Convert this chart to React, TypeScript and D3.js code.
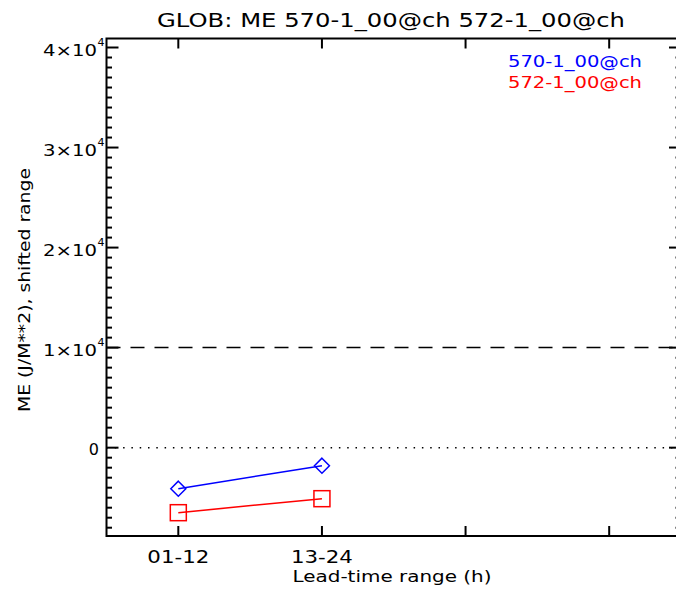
import React from "react";
import * as d3 from "d3";

const xTickLabels = ["01-12", "13-24", "", ""];
const xTickPositions = [1, 2, 3, 4];
const series1Name = "570-1_00@ch";
const series2Name = "572-1_00@ch";
const series1Values = [-4100, -1800];
const series2Values = [-6500, -5100];
const yMajorTicks = [0, 10000, 20000, 30000, 40000];
const yTickLabels = ["0", "1×10", "2×10", "3×10", "4×10"];
const title = "GLOB: ME 570-1_00@ch 572-1_00@ch";
const xTitle = "Lead-time range (h)";
const yTitle = "ME (J/M**2), shifted range";

const W = 676;
const H = 591;
const L = 106.5;
const R = 681;
const T = 38.5;
const B = 536;
const FONT = "DejaVu Sans, sans-serif";

export default function App() {
  const x = d3.scaleLinear().domain([0.5, 4.5]).range([L, R]);
  const y = d3.scaleLinear().domain([-8830, 40900]).range([B, T]);
  const minor = d3.range(-8000, 40901, 1000).filter((v) => v % 10000 !== 0);
  const line = d3
    .line<number>()
    .x((_, i) => x(i + 1))
    .y((d) => y(d));

  return (
    <svg
      width={W}
      height={H}
      style={{ position: "absolute", left: 0, top: 0, background: "#fff" }}
      fontFamily={FONT}
    >
      <rect x={0} y={0} width={W} height={H} fill="#fff" />
      <text x={391} y={27} fontSize={19} textAnchor="middle" textLength={468} lengthAdjust="spacingAndGlyphs">
        {title}
      </text>

      {/* reference lines */}
      <line x1={L} x2={R} y1={y(10000)} y2={y(10000)} stroke="#000" strokeWidth={1.5} strokeDasharray="14 10" />
      <line x1={L} x2={R} y1={y(0)} y2={y(0)} stroke="#000" strokeWidth={1.5} strokeDasharray="1.5 6.8" />

      {/* frame */}
      <rect x={L} y={T} width={R - L} height={B - T} fill="none" stroke="#000" strokeWidth={2} />

      {/* y ticks */}
      {yMajorTicks.map((v) => (
        <g key={"ym" + v}>
          <line x1={L} x2={L + 12} y1={y(v)} y2={y(v)} stroke="#000" strokeWidth={2} />
          <line x1={R} x2={R - 12} y1={y(v)} y2={y(v)} stroke="#000" strokeWidth={2} />
        </g>
      ))}
      {minor.map((v) => (
        <g key={"yn" + v}>
          <line x1={L} x2={L + 5.5} y1={y(v)} y2={y(v)} stroke="#000" strokeWidth={2} />
          <line x1={R} x2={R - 5.5} y1={y(v)} y2={y(v)} stroke="#000" strokeWidth={2} />
        </g>
      ))}
      {yMajorTicks.map((v, i) =>
        v === 0 ? (
          <text key={"yl" + v} x={99} y={y(v) + 7.5} fontSize={16} textAnchor="end">
            {yTickLabels[i]}
          </text>
        ) : (
          <g key={"yl" + v}>
            <text x={97} y={y(v) + 8.5} fontSize={16} textAnchor="end" textLength={54} lengthAdjust="spacingAndGlyphs">
              {yTickLabels[i]}
            </text>
            <text x={97.5} y={y(v) - 2} fontSize={11}>
              4
            </text>
          </g>
        )
      )}

      {/* x ticks */}
      {xTickPositions.map((p, i) => (
        <g key={"xt" + p}>
          <line x1={x(p)} x2={x(p)} y1={B} y2={B - 10} stroke="#000" strokeWidth={2} />
          <line x1={x(p)} x2={x(p)} y1={T} y2={T + 10} stroke="#000" strokeWidth={2} />
          {xTickLabels[i] && (
            <text x={x(p)} y={563} fontSize={17} textAnchor="middle" textLength={62} lengthAdjust="spacingAndGlyphs">
              {xTickLabels[i]}
            </text>
          )}
        </g>
      ))}

      <text x={392} y={582} fontSize={16} textAnchor="middle" textLength={199} lengthAdjust="spacingAndGlyphs">
        {xTitle}
      </text>
      <text
        transform={`translate(30,290) rotate(-90)`}
        fontSize={15}
        textAnchor="middle"
        textLength={244}
        lengthAdjust="spacingAndGlyphs"
      >
        {yTitle}
      </text>

      {/* series 1: blue diamonds */}
      <path d={line(series1Values) || ""} fill="none" stroke="#0000ff" strokeWidth={1.5} />
      {series1Values.map((v, i) => {
        const cx = x(i + 1);
        const cy = y(v);
        const s = 7.5;
        return (
          <path
            key={"d" + i}
            d={`M${cx},${cy - s}L${cx + s},${cy}L${cx},${cy + s}L${cx - s},${cy}Z`}
            fill="none"
            stroke="#0000ff"
            strokeWidth={1.5}
          />
        );
      })}

      {/* series 2: red squares */}
      <path d={line(series2Values) || ""} fill="none" stroke="#ff0000" strokeWidth={1.5} />
      {series2Values.map((v, i) => {
        const cx = x(i + 1);
        const cy = y(v);
        const s = 8;
        return (
          <rect key={"s" + i} x={cx - s} y={cy - s} width={2 * s} height={2 * s} fill="none" stroke="#ff0000" strokeWidth={1.5} />
        );
      })}

      {/* legend */}
      <text x={508} y={67} fontSize={16} fill="#0000ff" textLength={134} lengthAdjust="spacingAndGlyphs">
        {series1Name}
      </text>
      <text x={508} y={88} fontSize={16} fill="#ff0000" textLength={134} lengthAdjust="spacingAndGlyphs">
        {series2Name}
      </text>
    </svg>
  );
}
